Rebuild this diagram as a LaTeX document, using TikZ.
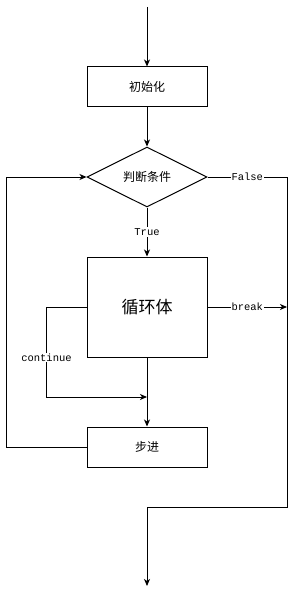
\documentclass[tikz,border=0pt]{standalone}
\usepackage{fontspec}
\newfontfamily\cjk{Noto Sans CJK SC}
\setmonofont{Liberation Mono}
\usetikzlibrary{shapes.geometric,arrows.meta}
\begin{document}
\begin{tikzpicture}[x=1pt,y=-1pt,line width=1pt,
    box/.style={draw, minimum width=120pt, minimum height=40pt, inner sep=0pt,
        font=\cjk\fontsize{12}{14}\selectfont},
    cond/.style={draw, diamond, aspect=2, minimum width=120pt, minimum height=60pt,
        inner sep=0pt, font=\cjk\fontsize{12}{14}\selectfont},
    lbl/.style={fill=white, inner sep=1pt, font=\ttfamily\fontsize{10.5}{12}\selectfont},
    arr/.style={-{Stealth[length=7pt,width=6pt,inset=2pt]}}]
    % Frame
    \useasboundingbox (0,0) rectangle (296,596);

    % Blocks
    \node[box] (init) at (147,87) {初始化};
    \node[cond] (test) at (147,177) {判断条件};
    \node[box, minimum height=100pt, font=\cjk\fontsize{17}{20}\selectfont] (body) at (147,307) {循环体};
    \node[box] (step) at (147,447) {步进};

    % Free ends
    \coordinate (start) at (147,7);
    \coordinate (join) at (147,397);
    \coordinate (brk) at (287,307);
    \coordinate (exit) at (147,586);

    % Main flow
    \draw[arr] (start) -- (init);
    \draw[arr] (init) -- (test);
    \draw[arr] (test.south) -- node[lbl] {True} (body.north);
    \draw[arr] (body.south) -- (step.north);

    % continue / break
    \draw[arr] (body.west) -- ++(-40,0) |- node[lbl, pos=0.28] {continue} (join);
    \draw[arr] (body.east) -- node[lbl] {break} (brk);

    % Loop back and exit
    \draw[arr] (step.west) -- ++(-80,0) |- (test.west);
    \draw[arr] (test.east) -- node[lbl] {False} (test.east -| brk) -- (287,507) -| (exit);
\end{tikzpicture}
\end{document}
